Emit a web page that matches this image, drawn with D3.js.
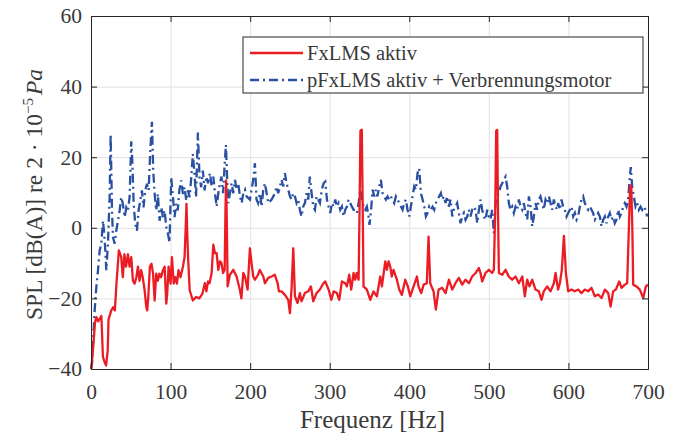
<!DOCTYPE html>
<html>
<head>
<meta charset="utf-8">
<script src="https://cdn.jsdelivr.net/npm/d3@7"></script>
<style>
  body { margin: 0; background: #fff; }
  .grid line { stroke: #e6e6e6; stroke-width: 1.2; }
  .grid path { display: none; }
  .axis path, .axis line { stroke: #262626; }
</style>
</head>
<body>
<script>
// Spectrum values: [frequency Hz, SPL dB(A)]
const fxlms = [
  [0,-40],[1,-38.5],[3,-33],[5,-27],[6.7,-25.3],[9,-26.5],[11,-25.7],[13,-25],[15,-36.6],[17,-38],[19,-39],[21,-34.7],
  [22,-26],[25.5,-23.4],[28,-22.5],[30,-23.4],[32,-15.8],[35,-6.4],[38,-8.3],[40,-14],[42,-7.5],[44,-11],[46.5,-7.5],
  [48.5,-11],[50.6,-8.3],[52.7,-15],[54.8,-15.8],[57,-14],[59,-11],[61,-15],[63,-12],[65,-14],[67.4,-17.7],[69.5,-22.5],
  [70.7,-23.4],[72,-19.6],[74,-11],[76,-10.2],[78,-13],[80,-20.6],[82,-13],[84,-15],[86,-13],[88,-14],[90.4,-12],
  [92.5,-11],[94.6,-21.5],[95.8,-18.7],[97.5,-11],[100,-15.8],[101.7,-8.3],[104,-15.8],[106,-14],[108,-15.8],[110,-12],
  [112.5,-14],[115.5,-11],[117.6,-8.3],[119,0],[120,6.8],[121,-2],[122,-8.3],[124,-17.7],[128,-20.6],[132,-19.6],
  [136,-20],[140,-18.7],[143,-15.7],[145,-18],[147,-15.2],[149,-15.7],[151.6,-12.8],[153.7,-4.8],[155.8,-7.2],
  [157.9,-7.2],[160,-11.9],[162,-9.5],[164,-10],[166,-12.8],[168,-11.9],[169,5],[169.8,13.4],[170.8,0],[171.7,-16.6],
  [174.6,-13.3],[178.8,-11.9],[183,-13.8],[185,-15.7],[187,-17.5],[189,-20],[191.4,-12.8],[193.5,-13.8],[196.8,-17.5],
  [199.7,-5.8],[201.8,-10],[203.9,-13.8],[206,-14.7],[210,-13.3],[212,-11.9],[216.5,-13.8],[218.6,-15.7],[222.8,-14.2],
  [227,-13.8],[231,-13.3],[234.5,-15.7],[236.2,-18],[239.5,-18],[243.7,-19],[247.9,-20.4],[250,-24.2],[252,-17.5],
  [254.2,-5.8],[256.3,-19.4],[259.6,-21.3],[262.5,-18.5],[264.6,-20.8],[268.8,-18.5],[273,-18],[276.4,-16.6],
  [279.3,-20.8],[283.5,-18.5],[287.7,-17.5],[292,-15.7],[294.4,-15.2],[298.6,-17.5],[302,-20.4],[305,-18],[309,-18.5],
  [312,-20.4],[315.3,-15.2],[319.5,-15.7],[321.6,-16.6],[324.5,-13.3],[327,-17.5],[330,-12.8],[332,-14.7],[334,-12.8],
  [336.3,-14.7],[337.5,5],[338.6,27.5],[340.3,27.8],[341.5,5],[342.5,-16.6],[346.7,-17.5],[351,-20.4],[355,-18],
  [359.3,-19.4],[363.5,-13.8],[365.6,-16.6],[369.8,-9.5],[371.8,-11.9],[374,-9.5],[376,-10.9],[378,-13.8],[380.2,-11.9],
  [384.4,-14.7],[387.4,-17.5],[390.7,-19],[394.9,-14.7],[398.2,-16.6],[401.2,-19.4],[405.4,-16.6],[409.6,-13.8],
  [411.6,-16.6],[415,-18.5],[418,-16.1],[422,-15.7],[424.2,-2.5],[426.3,-15.7],[430.5,-18],[433.4,-23.2],[436.8,-17.5],
  [441.4,-17],[445.6,-18.5],[449.8,-14.7],[454,-17.5],[458,-15.7],[462.3,-14.2],[466.5,-16.1],[470.7,-14.7],[475,-15.7],
  [479,-13.8],[483.3,-12.8],[487.5,-11.4],[489.5,-12.8],[491.6,-15.2],[495.8,-12.8],[500,-11.9],[504.2,-12.8],
  [506.3,-11.9],[508,5],[509.2,27.5],[510.5,27.7],[511.5,5],[512.6,-12.8],[516.8,-13.3],[521,-11.9],[525,-13.8],
  [529.3,-14.7],[533.5,-13.8],[537.7,-15.7],[542,-13.8],[545.2,-19.4],[548.2,-14.7],[551,-16.6],[554.5,-14.7],
  [558.6,-17.5],[562.8,-18],[566.2,-20.4],[569,-18],[573.3,-16.6],[577.5,-18],[581.7,-15.7],[583.8,-12.8],[587,-17.5],
  [589.2,-15.7],[591.7,-11.9],[594.3,-2.3],[596.8,-12.8],[599.7,-18],[603.9,-17.5],[608,-18],[612.3,-17.5],[616.4,-18.5],
  [620.6,-17.5],[624.8,-18],[629,-17],[633.2,-19.4],[637.4,-18.9],[641.6,-19.9],[645.8,-17.5],[650,-18.5],[653,-22.3],
  [656.2,-18],[659.6,-17.5],[663.8,-15.2],[666.7,-17],[670.9,-16.1],[673.8,-15.7],[676,0],[677.5,12],[679,11.5],
  [680.3,0],[681.4,-16.1],[685.5,-16.6],[689.7,-17.5],[694,-19.9],[697.3,-16.6],[700,-16.1]
];

const pfxlms = [
  [0,-40],[1.3,-38.5],[2.5,-32.8],[4.6,-23.4],[6.7,-16.8],[8.8,-12],[10.9,-6.4],[13,-4.5],[15,2],[16.3,-0.8],[18,-6.4],
  [19.2,-12],[21.3,-4.5],[23.4,8.7],[24.7,26.5],[26.4,4.9],[27.6,-2.6],[29.7,-4.5],[31.8,-0.8],[33.9,2],[36,4.9],[38,8.7],
  [40,6.8],[42.3,3],[44.4,5.8],[46.4,4.9],[48.5,8.7],[50.6,24.5],[51.9,19],[53.6,6.8],[55.6,1.1],[57.7,-0.8],[59.8,4.9],
  [61.9,7.7],[64,10.6],[66,5.8],[68.2,10.6],[70.3,12.5],[72.4,10.6],[74.5,21.9],[76.6,30],[78.2,16.2],[80,9.6],[82,4.9],
  [84,9.6],[86.2,2],[88.3,5.8],[90.4,3],[92.5,4.9],[94.6,0.2],[96.7,-1.7],[98.7,-4.1],[100.8,14.3],[103,8.7],[105,3],
  [107,6.8],[109,4.9],[111,10.6],[113.4,13.4],[115.5,9.6],[117.6,11.5],[119.7,7.7],[121.8,10.6],[124,8.7],[126,14.3],
  [128,20.9],[130,15.3],[132,8.7],[134.3,27],[136.4,14.3],[138.5,11.5],[140.6,16.2],[142.7,10.6],[145,14.5],[147,12.6],
  [149.5,15.5],[151.6,11.7],[153.7,14.5],[155.8,9.8],[157.9,6],[160,9.8],[162,12.6],[164,14.5],[166,9.8],[168.3,19.2],
  [169.6,23.5],[171.3,12.6],[172.5,7],[174.6,9.8],[176.7,12.6],[178.8,9.8],[180.9,13.6],[183,10.8],[185,12.6],
  [187.2,8.9],[189.3,7],[191.4,9.8],[193.5,10.8],[195.5,8.9],[199.7,8],[203.9,13.6],[206,18.3],[208,8],[210,7],
  [212.3,9.8],[214.4,6],[216.5,10.8],[218.6,12.6],[220.7,9.8],[222.8,7],[227,8],[231.1,9.8],[233.2,11.7],[235.3,9.8],
  [237.4,11.7],[239.5,13.6],[241.6,11.7],[243.7,15.5],[245.8,12.6],[247.9,10.8],[250,8.9],[252,8],[254.2,9.8],
  [256.3,8.9],[258.4,7],[260.5,8],[262.5,5.1],[264.6,3.2],[266.7,6],[268.8,7],[270.9,9.8],[273,8],[275,14.5],[277.2,9.8],
  [279.3,6],[281.4,5.1],[283.5,8.9],[285.6,8],[287.7,7],[290,10.8],[292.3,12.6],[294.4,13.1],[296.5,8],[298.6,6],
  [300.7,4.2],[302.8,7],[304.9,6],[307,8],[309,6],[311.1,7],[313.2,5.1],[315.3,6],[317.4,3.2],[319.5,5.1],[321.6,6],
  [323.7,8],[325.8,7],[327.9,6],[330,5.1],[332,5.1],[334.2,4.2],[336.3,7],[338.4,10.8],[340.5,8],[342.5,6],[344.6,5.1],
  [346.7,6],[348.8,3.2],[350,0.8],[352,5.1],[353.9,10.8],[356,8.9],[358,10.8],[360,8.9],[362.2,11.7],[364.3,13.6],
  [366.4,9.8],[368.5,8.9],[370.6,8],[372.7,8.9],[374.8,8],[376.9,8.9],[379,8],[381,7],[383.2,8.9],[385.3,8],[387.4,7],
  [389.5,6],[391.5,5.1],[393.6,7],[395.7,8],[397.8,5.1],[400,3.2],[402,6],[404.1,8.9],[406.2,11.7],[408.3,10.8],
  [410.4,15.5],[412.5,16.9],[414.6,9.8],[416.7,8],[418.8,6],[420.9,3.2],[423,4.2],[425,6],[427.1,5.1],[429.2,6],
  [431.3,5.1],[433.4,7],[435.5,8],[437.6,8.9],[439.7,9.8],[441.4,8],[443.5,8.9],[445.6,7],[447.7,8.9],[449.8,6],
  [451.9,8],[454,3.2],[456,5.1],[458.1,6],[460.2,7],[462.3,4.2],[464.4,1.3],[466.5,3.2],[468.6,4.2],[470.7,2.3],
  [472.8,3.2],[474.9,5.1],[477,3.2],[479,5.1],[481.2,6],[483.3,5.1],[485.4,1.3],[487.5,5.1],[489.5,8],[491.6,5.1],
  [493.7,3.2],[495.8,2.3],[497.9,5.1],[500,3.2],[502,2.3],[504.2,5.1],[506.3,-1.5],[508.4,7],[510.5,8.9],[512.6,9.8],
  [514.7,11.7],[516.8,12.6],[518.9,13.6],[521,14.5],[523,11.7],[525.1,7],[527.2,5.1],[529.3,6],[531.4,4.2],[533.5,6],
  [535.6,5.1],[537.7,8],[539.8,6],[541.9,5.1],[544,7],[546,4.2],[548.2,2.3],[550.3,8.9],[552.4,6],[554.5,0.4],
  [556.5,3.2],[558.6,7],[560.7,5.1],[562.8,8],[564.9,8.9],[567,7],[569,5.1],[571.2,8],[573.3,7],[575.4,8.9],[577.5,7],
  [579.6,5.1],[581.7,8],[583.8,6],[585.9,5.1],[587.1,7],[589.2,5.1],[591.3,8],[593.4,6],[595.5,5.1],[597.6,3.2],
  [599.7,4.2],[601.8,5.1],[603.9,6],[606,3.2],[608.1,4.2],[610.2,2.3],[612.3,3.2],[614.3,6],[616.4,8],[618.5,8.9],
  [620.6,7],[622.7,6],[624.8,5.1],[626.9,6],[629,5.1],[631,4.2],[633.2,2.3],[635.3,3.2],[637.4,4.2],[639.5,3.2],
  [641.6,0.4],[643.7,2.3],[645.8,3.2],[647.9,1.3],[650,3.2],[652,4.2],[654.1,2.3],[656.2,3.2],[658.3,1.3],[660.4,2.3],
  [662.5,5.1],[664.6,3.2],[666.7,4.2],[668.8,6],[670.9,7],[673,6],[675,8],[677.2,14.5],[678.4,17.2],[680.1,11.7],
  [682.2,8.9],[684.3,6],[686.4,7],[688.5,5.1],[690.6,6],[692.7,5.1],[694.8,6],[696.9,5.1],[699,3.2]
];

const xTicks = [0, 100, 200, 300, 400, 500, 600, 700];
const yTicks = [-40, -20, 0, 20, 40, 60];
const legendLabels = ["FxLMS aktiv", "pFxLMS aktiv + Verbrennungsmotor"];

const margin = { top: 16, right: 33, bottom: 66, left: 91 };
const width = 681 - margin.left - margin.right;
const height = 435 - margin.top - margin.bottom;
const serif = '"Liberation Serif", "Times New Roman", serif';

const svg = d3.select("body")
  .append("svg")
  .attr("width", 681)
  .attr("height", 435)
  .append("g")
  .attr("transform", `translate(${margin.left},${margin.top})`);

const xScale = d3.scaleLinear().domain([0, 700]).range([0, width]);
const yScale = d3.scaleLinear().domain([-40, 60]).range([height, 0]);

// grid
svg.append("g").attr("class", "grid")
  .attr("transform", `translate(0,${height})`)
  .call(d3.axisBottom(xScale).tickValues(xTicks).tickSize(-height).tickFormat(""));
svg.append("g").attr("class", "grid")
  .call(d3.axisLeft(yScale).tickValues(yTicks).tickSize(-width).tickFormat(""));

const line = d3.line()
  .x((d) => xScale(d[0]))
  .y((d) => yScale(d[1]));

svg.append("path").datum(pfxlms)
  .attr("fill", "none")
  .attr("stroke", "#2a50a2")
  .attr("stroke-width", 2.3)
  .attr("stroke-dasharray", "9,4,2,4")
  .attr("d", line);

svg.append("path").datum(fxlms)
  .attr("fill", "none")
  .attr("stroke", "#ec1c24")
  .attr("stroke-width", 2.3)
  .attr("stroke-linejoin", "round")
  .attr("d", line);

// axes, ticks pointing inward like the original
svg.append("g").attr("class", "axis")
  .attr("transform", `translate(0,${height})`)
  .call(d3.axisBottom(xScale).tickValues(xTicks).tickSize(-6).tickPadding(15));
svg.append("g").attr("class", "axis")
  .call(d3.axisTop(xScale).tickValues(xTicks).tickSize(-6).tickFormat(""));
svg.append("g").attr("class", "axis")
  .call(d3.axisLeft(yScale).tickValues(yTicks).tickSize(-6).tickPadding(9));
svg.append("g").attr("class", "axis")
  .attr("transform", `translate(${width},0)`)
  .call(d3.axisRight(yScale).tickValues(yTicks).tickSize(-6).tickFormat(""));
svg.selectAll(".axis text").style("font-size", "21.5px");

// axis labels
svg.append("text")
  .attr("x", width / 2 + 3)
  .attr("y", height + 59)
  .attr("text-anchor", "middle")
  .style("font-size", "25px")
  .text("Frequenz [Hz]");

const yLabel = svg.append("text")
  .attr("transform", `translate(${42 - margin.left},${height / 2 + 2}) rotate(-90)`)
  .attr("text-anchor", "middle")
  .style("font-size", "23.5px");
yLabel.append("tspan").text("SPL [dB(A)] re 2 · 10");
yLabel.append("tspan").attr("dy", -9).style("font-size", "15px").text("−5");
yLabel.append("tspan").attr("dy", 9).attr("dx", 3).style("font-style", "italic").text("Pa");

// legend
const legend = svg.append("g").attr("transform", `translate(${243 - margin.left},${37 - margin.top})`);
legend.append("rect")
  .attr("width", 400).attr("height", 56)
  .attr("fill", "#fff").attr("stroke", "#262626").attr("stroke-width", 1);
const legendStyles = [
  { color: "#ec1c24", dash: null },
  { color: "#2a50a2", dash: "9,4,2,4" }
];
legendLabels.forEach((label, i) => {
  const y = 16 + i * 27;
  legend.append("line")
    .attr("x1", 7).attr("x2", 60).attr("y1", y).attr("y2", y)
    .attr("stroke", legendStyles[i].color)
    .attr("stroke-width", 2.3)
    .attr("stroke-dasharray", legendStyles[i].dash);
  legend.append("text")
    .attr("x", 64).attr("y", y + 7)
    .style("font-size", "20.5px")
    .text(label);
});

// serif everywhere, including the axis groups d3 marks as sans-serif
svg.selectAll("text")
  .style("font-family", serif)
  .style("fill", "#3a3a3a");
</script>
</body>
</html>
